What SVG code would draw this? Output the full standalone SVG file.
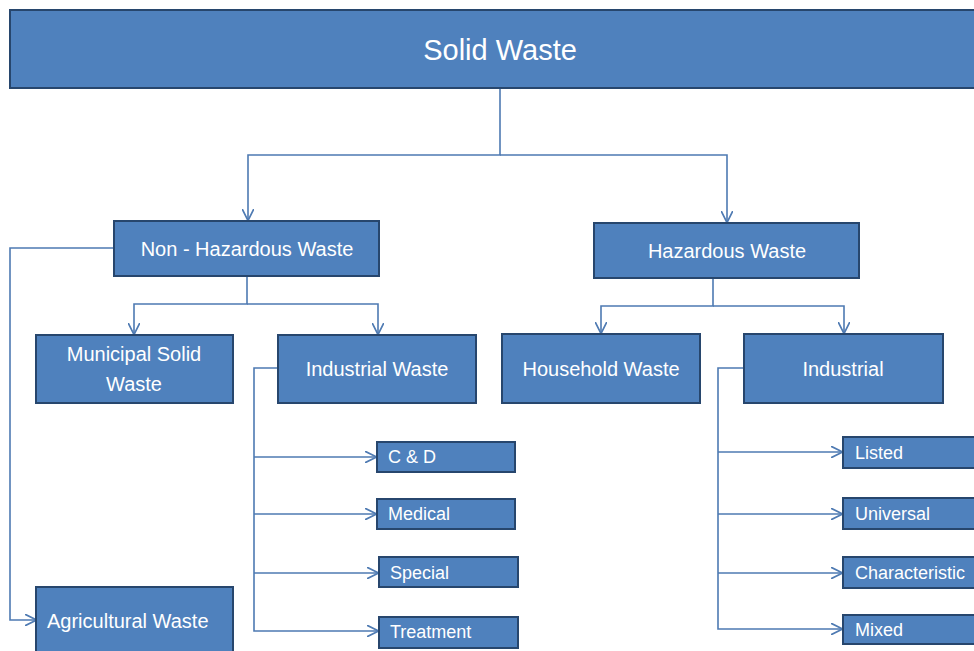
<svg xmlns="http://www.w3.org/2000/svg" width="974" height="651" viewBox="0 0 974 651">
<defs>
<style>
.box{fill:#4f81bd;stroke:#27466d;stroke-width:2}
.t{fill:#ffffff;font-family:"Liberation Sans",Arial,sans-serif;font-size:20px}
.tc{text-anchor:middle}
.s{font-size:18px}
.c{fill:none;stroke:#4e7ab2;stroke-width:1.6}
</style>
<marker id="ar" markerUnits="userSpaceOnUse" markerWidth="12" markerHeight="12" viewBox="0 0 10 10" refX="9.5" refY="5" orient="auto">
<path d="M0,0 L10,5 L0,10" fill="none" stroke="#4e7ab2" stroke-width="1.4"/>
</marker>
</defs>
<rect width="974" height="651" fill="#ffffff"/>
<g id="connectors" class="c">
<path class="c" d="M500,88 V155 H248 V220" marker-end="url(#ar)"/>
<path class="c" d="M500,155 H727 V222" marker-end="url(#ar)"/>
<path class="c" d="M114,248 H10 V620 H36" marker-end="url(#ar)"/>
<path class="c" d="M247,276 V304 H134 V334" marker-end="url(#ar)"/>
<path class="c" d="M247,304 H378 V334" marker-end="url(#ar)"/>
<path class="c" d="M713,278 V306 H601 V333" marker-end="url(#ar)"/>
<path class="c" d="M713,306 H844 V333" marker-end="url(#ar)"/>
<path class="c" d="M278,368 H254 V631 H378" marker-end="url(#ar)"/>
<path class="c" d="M254,457 H376" marker-end="url(#ar)"/>
<path class="c" d="M254,514 H376" marker-end="url(#ar)"/>
<path class="c" d="M254,573 H378" marker-end="url(#ar)"/>
<path class="c" d="M744,368 H718 V629 H842" marker-end="url(#ar)"/>
<path class="c" d="M718,452 H842" marker-end="url(#ar)"/>
<path class="c" d="M718,514 H842" marker-end="url(#ar)"/>
<path class="c" d="M718,573 H842" marker-end="url(#ar)"/>
</g>
<g id="solid-waste"><rect class="box" x="10" y="10" width="975" height="78"/><text class="t tc" x="500" y="60" style="font-size:29px">Solid Waste</text></g>
<g id="non-hazardous"><rect class="box" x="114" y="221" width="265" height="55"/><text class="t tc" x="247" y="256">Non - Hazardous Waste</text></g>
<g id="hazardous"><rect class="box" x="594" y="223" width="265" height="55"/><text class="t tc" x="727" y="258">Hazardous Waste</text></g>
<g id="municipal"><rect class="box" x="36" y="335" width="197" height="68"/><text class="t tc" x="134" y="361">Municipal Solid</text><text class="t tc" x="134" y="391">Waste</text></g>
<g id="industrial-waste"><rect class="box" x="278" y="335" width="198" height="68"/><text class="t tc" x="377" y="376">Industrial Waste</text></g>
<g id="household"><rect class="box" x="502" y="334" width="198" height="69"/><text class="t tc" x="601" y="376">Household Waste</text></g>
<g id="industrial"><rect class="box" x="744" y="334" width="199" height="69"/><text class="t tc" x="843" y="376">Industrial</text></g>
<g id="agricultural"><rect class="box" x="36" y="587" width="197" height="70"/><text class="t" x="47" y="628">Agricultural Waste</text></g>
<g id="cd"><rect class="box" x="377" y="442" width="138" height="30"/><text class="t s" x="388" y="463">C &amp; D</text></g>
<g id="medical"><rect class="box" x="377" y="499" width="138" height="30"/><text class="t s" x="388" y="520">Medical</text></g>
<g id="special"><rect class="box" x="379" y="557" width="139" height="30"/><text class="t s" x="390" y="579">Special</text></g>
<g id="treatment"><rect class="box" x="379" y="617" width="139" height="31"/><text class="t s" x="390" y="638">Treatment</text></g>
<g id="listed"><rect class="box" x="843" y="437" width="140" height="31"/><text class="t s" x="855" y="459">Listed</text></g>
<g id="universal"><rect class="box" x="843" y="498" width="140" height="31"/><text class="t s" x="855" y="520">Universal</text></g>
<g id="characteristic"><rect class="box" x="843" y="557" width="140" height="31"/><text class="t s" x="855" y="579">Characteristic</text></g>
<g id="mixed"><rect class="box" x="843" y="615" width="140" height="29"/><text class="t s" x="855" y="636">Mixed</text></g>
</svg>
